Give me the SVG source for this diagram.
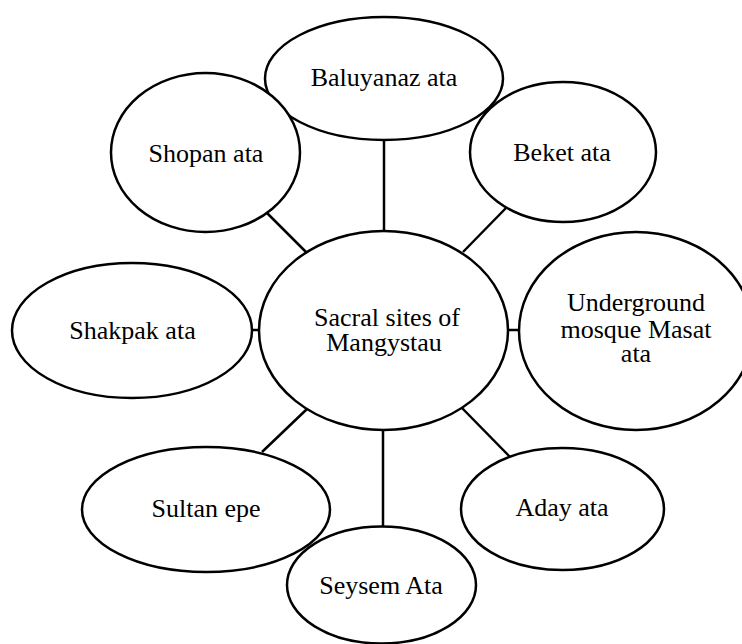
<svg xmlns="http://www.w3.org/2000/svg" width="742" height="644" viewBox="0 0 742 644">
<style>
.n{fill:#fff;stroke:#000;stroke-width:2.5}
.c{stroke:#000;stroke-width:2.5;fill:none}
text{font-family:"Liberation Serif","Times New Roman",serif;font-size:26px;fill:#000;text-anchor:middle}
</style>
<rect width="742" height="644" fill="#fff"/>
<g id="connectors">
<line class="c" x1="384" y1="140" x2="384" y2="232"/>
<line class="c" x1="267" y1="213" x2="307" y2="253"/>
<line class="c" x1="506" y1="208" x2="463" y2="252"/>
<line class="c" x1="252" y1="330" x2="259" y2="330"/>
<line class="c" x1="508" y1="330" x2="519" y2="330"/>
<line class="c" x1="307" y1="409" x2="262" y2="452"/>
<line class="c" x1="462" y1="408" x2="510" y2="457"/>
<line class="c" x1="383" y1="430" x2="383" y2="526"/>
</g>
<g id="baluyanaz"><ellipse class="n" cx="384" cy="78.5" rx="119" ry="61.5"/><text x="384" y="86">Baluyanaz ata</text></g>
<g id="shopan"><ellipse class="n" cx="205.5" cy="152.5" rx="94.5" ry="79.5"/><text x="206" y="161.5">Shopan ata</text></g>
<g id="beket"><ellipse class="n" cx="563" cy="152" rx="93" ry="70"/><text x="562" y="161">Beket ata</text></g>
<g id="center"><ellipse class="n" cx="383.5" cy="330.5" rx="124.5" ry="99.5"/><text x="387" y="325.5">Sacral sites of</text><text x="384" y="351">Mangystau</text></g>
<g id="shakpak"><ellipse class="n" cx="132" cy="330.5" rx="120" ry="67.5"/><text x="132.5" y="338.5">Shakpak ata</text></g>
<g id="underground"><ellipse class="n" cx="636" cy="331" rx="117" ry="99"/><text x="636" y="310.5">Underground</text><text x="636" y="337.5">mosque Masat</text><text x="636" y="361.5">ata</text></g>
<g id="sultan"><ellipse class="n" cx="206" cy="509.5" rx="124" ry="62.5"/><text x="206" y="517">Sultan epe</text></g>
<g id="aday"><ellipse class="n" cx="562.5" cy="509" rx="101.5" ry="61"/><text x="562" y="516">Aday ata</text></g>
<g id="seysem"><ellipse class="n" cx="381.5" cy="585" rx="94.5" ry="58.5"/><text x="381" y="594">Seysem Ata</text></g>
</svg>
